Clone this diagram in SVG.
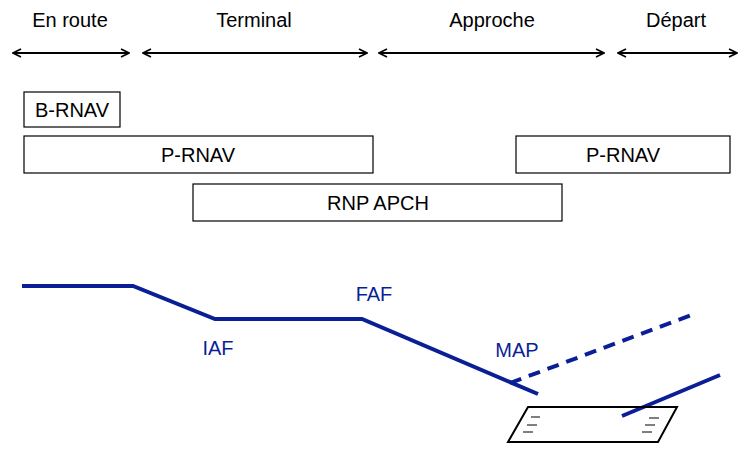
<svg xmlns="http://www.w3.org/2000/svg" width="744" height="461" viewBox="0 0 744 461">
<style>
text{font-family:"Liberation Sans",Arial,sans-serif;font-size:20px;text-anchor:middle}
.box{fill:#fff;stroke:#000;stroke-width:1.2}
.ar{stroke:#000;stroke-width:2;fill:none;marker-start:url(#h);marker-end:url(#h)}
.bl{stroke:#0a1f96;stroke-width:4;fill:none}
.lb{fill:#0a1f96}
.hm{stroke:#000;stroke-width:1}
</style>
<defs><marker id="h" viewBox="0 0 10 10" refX="9" refY="5" markerWidth="5" markerHeight="5" orient="auto-start-reverse" markerUnits="strokeWidth"><path d="M1,1 L9,5 L1,9" fill="none" stroke="#000" stroke-width="1.6"/></marker></defs>
<g id="phases">
<text x="70" y="27">En route</text><text x="254" y="27">Terminal</text><text x="492" y="27">Approche</text><text x="676" y="27">Départ</text>
</g>
<g id="connectors">
<line class="ar" x1="13" y1="53" x2="129" y2="53"/>
<line class="ar" x1="143" y1="53" x2="367" y2="53"/>
<line class="ar" x1="379" y1="53" x2="604" y2="53"/>
<line class="ar" x1="618" y1="53" x2="737" y2="53"/>
</g>
<g id="brnav"><rect class="box" x="24" y="92" width="96" height="35"/><text x="72" y="117">B-RNAV</text></g>
<g id="prnav1"><rect class="box" x="24" y="136" width="349" height="37"/><text x="198" y="162">P-RNAV</text></g>
<g id="prnav2"><rect class="box" x="516" y="136" width="214" height="37"/><text x="623" y="162">P-RNAV</text></g>
<g id="rnpapch"><rect class="box" x="193" y="184" width="369" height="37"/><text x="378" y="210">RNP APCH</text></g>
<g id="profile">
<polyline class="bl" points="22,286 133,286 215,319 362,319 538,394"/>
<line class="bl" x1="510" y1="383" x2="697" y2="313" stroke-dasharray="12,8"/>
<line class="bl" x1="622" y1="416" x2="720" y2="375"/>
<text class="lb" x="218" y="355">IAF</text>
<text class="lb" x="374" y="301">FAF</text>
<text class="lb" x="517" y="357">MAP</text>
</g>
<g id="runway">
<polygon points="508,442 528,407 677,407 658,442" fill="none" stroke="#000" stroke-width="2"/>
<line class="hm" x1="531" y1="417" x2="540" y2="417"/><line class="hm" x1="527" y1="425" x2="537" y2="425"/><line class="hm" x1="523" y1="432" x2="533" y2="432"/>
<line class="hm" x1="649" y1="418" x2="659" y2="418"/><line class="hm" x1="645" y1="425" x2="655" y2="425"/><line class="hm" x1="642" y1="432" x2="652" y2="432"/>
</g>
</svg>
